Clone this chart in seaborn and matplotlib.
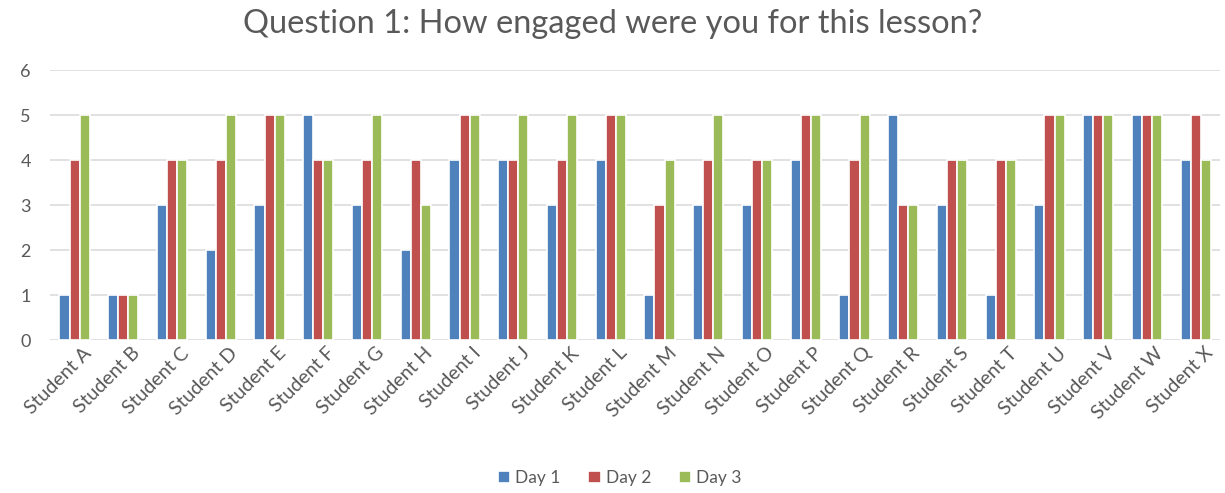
import matplotlib
matplotlib.use("Agg")
import matplotlib.pyplot as plt
import matplotlib.transforms as mtransforms
import seaborn as sns
import pandas as pd

students = ["Student " + c for c in "ABCDEFGHIJKLMNOPQRSTUVWX"]
day1 = [1, 1, 3, 2, 3, 5, 3, 2, 4, 4, 3, 4, 1, 3, 3, 4, 1, 5, 3, 1, 3, 5, 5, 4]
day2 = [4, 1, 4, 4, 5, 4, 4, 4, 5, 4, 4, 5, 3, 4, 4, 5, 4, 3, 4, 4, 5, 5, 5, 5]
day3 = [5, 1, 4, 5, 5, 4, 5, 3, 5, 5, 5, 5, 4, 5, 4, 5, 5, 3, 4, 4, 5, 5, 5, 4]
days = ["Day 1", "Day 2", "Day 3"]
colors = ["#4F81BD", "#C0504D", "#9BBB59"]
yticks = [0, 1, 2, 3, 4, 5, 6]

df = pd.DataFrame({
    "student": students * 3,
    "score": day1 + day2 + day3,
    "day": [d for d in days for _ in students],
})

sns.set_theme(style="white")
plt.rcParams["font.family"] = ["Lato", "DejaVu Sans"]

fig = plt.figure(figsize=(12.25, 4.93), dpi=100)
ax = fig.add_axes([0.041, 0.310, 0.955, 0.548])

sns.barplot(data=df, x="student", y="score", hue="day", hue_order=days,
            palette=colors, width=0.62, edgecolor="white", linewidth=1.2,
            saturation=1, ax=ax, legend=True)

ax.set_ylim(0, 6)
ax.set_xlim(-0.5, len(students) - 0.5)
ax.set_yticks(yticks)
ax.yaxis.grid(True, color="#D9D9D9", linewidth=1.1)
ax.set_axisbelow(True)
for s in ax.spines.values():
    s.set_visible(False)
ax.set_xlabel("")
ax.set_ylabel("")
ax.tick_params(axis="both", length=0, colors="#595959")
ax.tick_params(axis="y", pad=14, labelsize=13)
ax.tick_params(axis="x", pad=3, labelsize=14)
shift = mtransforms.ScaledTranslation(8 / 100, 0, fig.dpi_scale_trans)
for lab in ax.get_xticklabels():
    lab.set_rotation(45)
    lab.set_ha("right")
    lab.set_rotation_mode("anchor")
    lab.set_transform(lab.get_transform() + shift)

fig.suptitle("Question 1: How engaged were you for this lesson?",
             y=0.982, fontsize=23.5, color="#595959")

handles, labels = ax.get_legend_handles_labels()
ax.legend_.remove()
fig.legend(handles, labels, loc="center", bbox_to_anchor=(0.506, 0.03),
           ncol=3, frameon=False, fontsize=12.5, labelcolor="#595959",
           handlelength=0.7, handleheight=0.7, handletextpad=0.3,
           columnspacing=1.6)

fig.savefig("out.png", dpi=100)
